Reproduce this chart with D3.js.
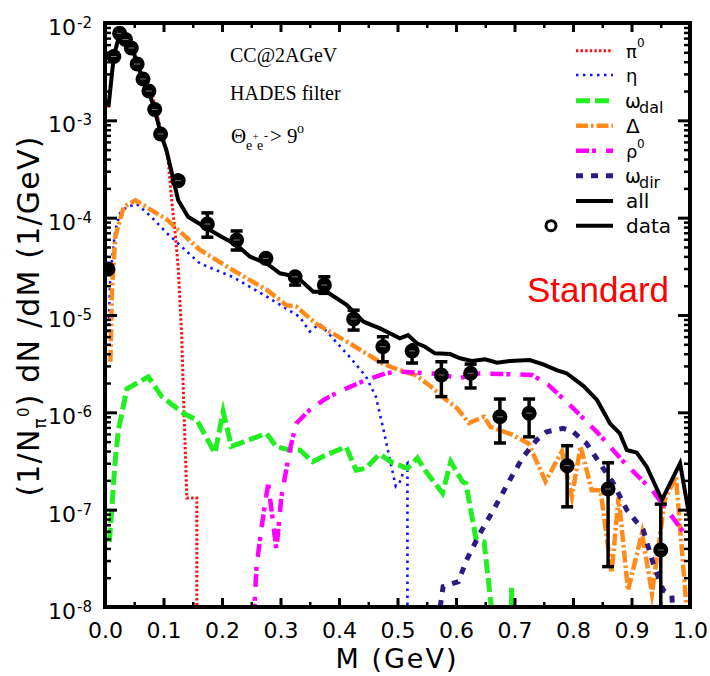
<!DOCTYPE html>
<html><head><meta charset="utf-8">
<script src="https://cdn.jsdelivr.net/npm/d3@7/dist/d3.min.js"></script>
<style>html,body{margin:0;padding:0;background:#fff}svg{display:block}</style>
</head><body>
<svg id="chart" width="710" height="676"></svg>
<script>
// ===== data (M in GeV, dN/dM in 1/GeV) =====
const pi0M = [0.006,0.015,0.027,0.038,0.048,0.055,0.065,0.080,0.089,0.100,0.108,0.114,0.120,0.125,0.128,0.131,0.135,0.140,0.157,0.157];
const pi0V = [1.35e-3,4.47e-3,7.94e-3,6.6e-3,5.13e-3,3.72e-3,2.57e-3,1.95e-3,1.12e-3,6.46e-4,3.89e-4,1.51e-4,6.9e-5,3.16e-5,1.41e-5,6.46e-6,1.0e-6,1.32e-7,1.32e-7,1e-9];

const etaM = [0.006,0.009,0.0175,0.026,0.0375,0.0545,0.077,0.106,0.162,0.219,0.276,0.333,0.350,0.367,0.418,0.446,0.463,0.475,0.486,0.497,0.506,0.512,0.517,0.517];
const etaV = [6.6e-6,2.51e-5,7.41e-5,1.12e-4,1.29e-4,1.38e-4,1.05e-4,6.92e-5,3.39e-5,2.45e-5,1.55e-5,9.55e-6,6.76e-6,8.13e-6,3.72e-6,2.34e-6,1.45e-6,7.08e-7,3.47e-7,1.74e-7,2.0e-7,2.82e-7,3.0e-7,1e-9];

const omegaDalM = [0.0075,0.0175,0.023,0.0375,0.074,0.097,0.134,0.157,0.188,0.202,0.216,0.276,0.293,0.316,0.333,0.355,0.378,0.412,0.429,0.446,0.469,0.492,0.517,0.534,0.549,0.577,0.591,0.611,0.617,0.634,0.648,0.666,0.680,0.693,0.695,0.698];
const omegaDalV = [4.68e-8,3.24e-7,6.61e-7,1.74e-6,2.32e-6,1.45e-6,9.77e-7,8.32e-7,3.8e-7,1.02e-6,4.47e-7,6.08e-7,4.44e-7,4.1e-7,4.1e-7,3.11e-7,3.65e-7,4.44e-7,2.55e-7,2.66e-7,3.72e-7,3.02e-7,2.66e-7,3.39e-7,2.45e-7,1.48e-7,3.11e-7,1.94e-7,1.86e-7,5.07e-8,4.68e-8,5e-9,1e-9,1e-9,1.58e-8,1e-9];

const deltaM = [0.0092,0.012,0.0175,0.032,0.052,0.106,0.162,0.219,0.276,0.31,0.327,0.361,0.418,0.475,0.503,0.532,0.560,0.583,0.602,0.622,0.648,0.659,0.696,0.724,0.753,0.781,0.798,0.813,0.832,0.847,0.866,0.878,0.894,0.918,0.935,0.957,0.976,0.994];
const deltaV = [3.31e-6,1.82e-5,6.31e-5,1.29e-4,1.51e-4,9.55e-5,4.68e-5,2.88e-5,1.82e-5,1.26e-5,1.22e-5,8.13e-6,5.13e-6,3.16e-6,2.72e-6,2.4e-6,1.78e-6,1.35e-6,1.1e-6,7.76e-7,9.0e-7,7.08e-7,5.89e-7,4.79e-7,1.95e-7,3.98e-7,1.35e-7,4.47e-7,1.58e-7,1.58e-7,2.24e-8,1.35e-7,1.48e-8,5.75e-8,1.38e-8,1.26e-7,2.19e-7,1.0e-8];

const rho0M = [0.2545,0.259,0.267,0.279,0.293,0.3015,0.316,0.327,0.35,0.378,0.406,0.446,0.480,0.503,0.571,0.605,0.634,0.672,0.730,0.758,0.798,0.843,0.889,0.935,0.957,0.986,0.997];
const rho0V = [7.94e-9,2.59e-8,6.18e-8,1.87e-7,3.85e-8,1.36e-7,4.1e-7,7.71e-7,1.06e-6,1.39e-6,1.69e-6,2.15e-6,2.52e-6,2.62e-6,2.48e-6,2.23e-6,2.51e-6,2.48e-6,2.42e-6,1.91e-6,1.14e-6,6.08e-7,2.99e-7,1.59e-7,1.07e-7,6.18e-8,4.9e-8];

const omegaDirM = [0.573,0.578,0.604,0.618,0.641,0.664,0.692,0.715,0.738,0.755,0.783,0.800,0.823,0.846,0.869,0.892,0.920,0.937,0.954,0.969,0.971];
const omegaDirV = [1e-8,1.62e-8,1.82e-8,3.04e-8,5.71e-8,9.93e-8,2.02e-7,3.5e-7,5.2e-7,6.32e-7,6.85e-7,6.32e-7,4.8e-7,2.99e-7,1.87e-7,9.93e-8,6.18e-8,2.81e-8,1.49e-8,1.33e-8,7.94e-9];

const allM = [0.006,0.015,0.026,0.038,0.048,0.055,0.065,0.075,0.085,0.096,0.105,0.115,0.125,0.132,0.142,0.174,0.2,0.225,0.248,0.276,0.299,0.328,0.356,0.379,0.413,0.442,0.470,0.504,0.518,0.533,0.547,0.564,0.590,0.607,0.627,0.650,0.670,0.692,0.726,0.749,0.772,0.789,0.818,0.841,0.863,0.880,0.892,0.909,0.926,0.952,0.983,1.0];
const allV = [1.38e-3,4.58e-3,8.09e-3,6.68e-3,5.28e-3,3.79e-3,2.66e-3,1.95e-3,1.28e-3,7.06e-4,4.95e-4,2.74e-4,1.52e-4,1.29e-4,1.02e-4,7.78e-5,6.32e-5,5.24e-5,3.97e-5,3.4e-5,2.68e-5,2.47e-5,1.73e-5,1.73e-5,1.27e-5,8.53e-6,7.29e-6,5.75e-6,6.22e-6,5.12e-6,4.72e-6,4.04e-6,3.97e-6,3.59e-6,3.37e-6,3.51e-6,3.24e-6,3.37e-6,3.45e-6,3.11e-6,2.72e-6,2.52e-6,1.86e-6,1.34e-6,7.71e-7,6.08e-7,4.1e-7,3.85e-7,2.76e-7,1.26e-7,2.99e-7,7.83e-8];

const dataM  = [0.005,0.015,0.025,0.035,0.045,0.055,0.065,0.075,0.085,0.095,0.125,0.175,0.225,0.275,0.325,0.375,0.425,0.475,0.525,0.575,0.625,0.675,0.725,0.79,0.86,0.95];
const dataV  = [2.97e-5,4.53e-3,7.83e-3,6.76e-3,5.53e-3,3.79e-3,2.66e-3,2.0e-3,1.29e-3,7.24e-4,2.40e-4,8.6e-5,5.89e-5,3.82e-5,2.47e-5,2.03e-5,9.1e-6,4.72e-6,4.27e-6,2.42e-6,2.52e-6,9.0e-7,9.8e-7,2.83e-7,1.63e-7,3.85e-8];
const dataHi = [3.3e-5,4.7e-3,8.1e-3,7.0e-3,5.7e-3,3.9e-3,2.75e-3,2.07e-3,1.34e-3,7.5e-4,2.86e-4,1.12e-4,7.3e-5,4.47e-5,2.9e-5,2.47e-5,1.12e-5,5.98e-6,5.15e-6,3.31e-6,3.13e-6,1.37e-6,1.37e-6,4.54e-7,3.03e-7,1.14e-7];
const dataLo = [2.7e-5,4.35e-3,7.55e-3,6.5e-3,5.35e-3,3.68e-3,2.57e-3,1.93e-3,1.24e-3,6.98e-4,2.02e-4,6.3e-5,4.65e-5,3.26e-5,2.03e-5,1.67e-5,7.0e-6,3.31e-6,3.21e-6,1.45e-6,1.78e-6,4.84e-7,5.6e-7,1.07e-7,2.6e-8,1e-9];

const xTickValues = [0,0.1,0.2,0.3,0.4,0.5,0.6,0.7,0.8,0.9,1.0];
const yDecades = [-8,-7,-6,-5,-4,-3,-2];

// ===== layout & scales =====
const W=710,H=676,L=105,R=690,T=23,B=607;
const x=d3.scaleLinear().domain([0,1]).range([L,R]);
const y=d3.scaleLog().domain([1e-8,1e-2]).range([B,T]);
const svg=d3.select('#chart');
svg.append('rect').attr('width',W).attr('height',H).attr('fill','#fff');
svg.append('defs').append('clipPath').attr('id','pc').append('rect')
  .attr('x',L).attr('y',T).attr('width',R-L).attr('height',B-T);

const series=[
  {m:pi0M,v:pi0V,color:'#ff1010',w:3,dash:'2.4,2.2'},
  {m:etaM,v:etaV,color:'#1010ff',w:2.6,dash:'2.5,4.5'},
  {m:omegaDalM,v:omegaDalV,color:'#22ee22',w:5,dash:'14,5'},
  {m:deltaM,v:deltaV,color:'#ff8c1a',w:4.5,dash:'12,3,2.5,3'},
  {m:rho0M,v:rho0V,color:'#ff00ff',w:4.5,dash:'13,3,4,10'},
  {m:omegaDirM,v:omegaDirV,color:'#2e1a80',w:5,dash:'7,8'},
  {m:allM,v:allV,color:'#000',w:4,dash:null}
];
const line=d3.line().x(d=>x(d[0])).y(d=>y(d[1]));
const plot=svg.append('g').attr('clip-path','url(#pc)');
series.forEach(s=>{
  plot.append('path').datum(d3.zip(s.m,s.v)).attr('d',line)
    .attr('fill','none').attr('stroke',s.color).attr('stroke-width',s.w)
    .attr('stroke-dasharray',s.dash).attr('stroke-linejoin','miter').attr('stroke-miterlimit',8);
});

// data points with error bars
const pts=d3.range(dataM.length).map(i=>({m:dataM[i],v:dataV[i],hi:dataHi[i],lo:dataLo[i]}));
const dg=plot.append('g');
pts.forEach(p=>{
  const cx=x(p.m), cy=y(p.v), yh=y(p.hi), yl=y(p.lo);
  dg.append('line').attr('x1',cx).attr('x2',cx).attr('y1',yh).attr('y2',yl).attr('stroke','#000').attr('stroke-width',3.5);
  if(cy-yh>8) dg.append('line').attr('x1',cx-6).attr('x2',cx+6).attr('y1',yh).attr('y2',yh).attr('stroke','#000').attr('stroke-width',3.5);
  if(yl-cy>8 && yl<B) dg.append('line').attr('x1',cx-6).attr('x2',cx+6).attr('y1',yl).attr('y2',yl).attr('stroke','#000').attr('stroke-width',3.5);
  dg.append('circle').attr('cx',cx).attr('cy',cy).attr('r',7.5).attr('fill','#000');
  dg.append('line').attr('x1',cx-3).attr('x2',cx+3).attr('y1',cy).attr('y2',cy).attr('stroke','#777').attr('stroke-width',1);
});

// ===== axes (ticks inside on all four sides) =====
const yMajor=yDecades.map(e=>Math.pow(10,e));
const yMinor=[]; yDecades.slice(0,-1).forEach(e=>{for(let k=2;k<=9;k++) yMinor.push(k*Math.pow(10,e));});
const xMinor=d3.range(0.05,1,0.1);
function style(g,w){g.select('.domain').remove();g.selectAll('.tick line').attr('stroke','#000').attr('stroke-width',w);}
svg.append('g').attr('transform',`translate(${L},0)`).call(d3.axisLeft(y).tickValues(yMajor).tickSize(-12).tickFormat('')).call(g=>style(g,3));
svg.append('g').attr('transform',`translate(${L},0)`).call(d3.axisLeft(y).tickValues(yMinor).tickSize(-6).tickFormat('')).call(g=>style(g,2.5));
svg.append('g').attr('transform',`translate(${R},0)`).call(d3.axisRight(y).tickValues(yMajor).tickSize(-12).tickFormat('')).call(g=>style(g,3));
svg.append('g').attr('transform',`translate(${R},0)`).call(d3.axisRight(y).tickValues(yMinor).tickSize(-6).tickFormat('')).call(g=>style(g,2.5));
const xb=svg.append('g').attr('transform',`translate(0,${B})`).call(d3.axisBottom(x).tickValues(xTickValues).tickSize(-9).tickPadding(15).tickFormat(d3.format('.1f')));
style(xb,3);
xb.selectAll('text').attr('font-family','DejaVu Sans, sans-serif').attr('font-size',22).attr('fill','#000');
svg.append('g').attr('transform',`translate(0,${B})`).call(d3.axisBottom(x).tickValues(xMinor).tickSize(-5).tickFormat('')).call(g=>style(g,2.5));
svg.append('g').attr('transform',`translate(0,${T})`).call(d3.axisTop(x).tickValues(xTickValues).tickSize(-9).tickFormat('')).call(g=>style(g,3));
svg.append('g').attr('transform',`translate(0,${T})`).call(d3.axisTop(x).tickValues(xMinor).tickSize(-5).tickFormat('')).call(g=>style(g,2.5));

// frame
svg.append('rect').attr('x',L).attr('y',T).attr('width',R-L).attr('height',B-T)
  .attr('fill','none').attr('stroke','#000').attr('stroke-width',4);

// y tick labels 10^e
const yl=svg.append('g').attr('font-family','DejaVu Sans, sans-serif').attr('fill','#000');
yDecades.forEach(e=>{
  const py=y(Math.pow(10,e));
  yl.append('text').attr('x',76).attr('y',py+12).attr('text-anchor','end').attr('font-size',22).text('10');
  yl.append('text').attr('x',77).attr('y',py+5).attr('font-size',15).text(String(e));
});

// axis titles
svg.append('text').attr('x',397).attr('y',668).attr('text-anchor','middle')
  .attr('font-family','DejaVu Sans, sans-serif').attr('font-size',27).attr('letter-spacing',2).text('M (GeV)');
const yt=svg.append('text').attr('transform','translate(39,316) rotate(-90)').attr('text-anchor','middle')
  .attr('font-family','DejaVu Sans, sans-serif').attr('font-size',30).attr('letter-spacing',1.2);
yt.append('tspan').text('(1/N');
yt.append('tspan').attr('font-size',17).attr('dy',7).text('π');
yt.append('tspan').attr('font-size',15).attr('dy',-17).text('0');
yt.append('tspan').attr('dy',10).text(') dN /dM (1/GeV)');

// annotations
const ann=svg.append('g').attr('font-family','Liberation Serif, Times New Roman, serif').attr('fill','#000');
ann.append('text').attr('x',230).attr('y',62).attr('font-size',20).text('CC@2AGeV');
ann.append('text').attr('x',230).attr('y',100).attr('font-size',20).text('HADES filter');
ann.append('text').attr('x',231).attr('y',143).attr('font-size',21).text('Θ');
ann.append('text').attr('x',246).attr('y',150).attr('font-size',14).text('e');
ann.append('text').attr('x',252.5).attr('y',140).attr('font-size',11).text('+');
ann.append('text').attr('x',257).attr('y',150).attr('font-size',14).text('e');
ann.append('text').attr('x',264).attr('y',140).attr('font-size',12).text('-');
ann.append('text').attr('x',270).attr('y',143).attr('font-size',21).text('> 9');
ann.append('text').attr('x',297).attr('y',133).attr('font-size',14).text('o');

svg.append('text').attr('x',527).attr('y',302).attr('font-family','Liberation Sans, Arial, sans-serif')
  .attr('font-size',35).attr('fill','#ff0000').text('Standard');

// legend
const legendRows=[50.7,75,100.7,125.7,150.7,175.7,201,225.7];
const lg=svg.append('g');
series.forEach((s,i)=>{
  lg.append('line').attr('x1',576).attr('x2',613).attr('y1',legendRows[i]).attr('y2',legendRows[i])
    .attr('stroke',s.color).attr('stroke-width',s.w).attr('stroke-dasharray',s.dash);
});
lg.append('line').attr('x1',576).attr('x2',613).attr('y1',legendRows[7]).attr('y2',legendRows[7]).attr('stroke','#000').attr('stroke-width',4);
lg.append('circle').attr('cx',551).attr('cy',legendRows[7]).attr('r',5).attr('fill','#fff').attr('stroke','#000').attr('stroke-width',3);
const lt=lg.append('g').attr('font-family','DejaVu Sans, sans-serif').attr('fill','#000');
function lab(xx,yy,fs,t){lt.append('text').attr('x',xx).attr('y',yy).attr('font-size',fs).text(t);}
lab(626,58,18,'π'); lab(637,47,12,'0');
lab(626,82,18,'η');
lab(625,108,19,'ω'); lab(639,113,16,'dal');
lab(626,133,20,'Δ');
lab(626,158,18,'ρ'); lab(637,148,12,'0');
lab(625,183,19,'ω'); lab(639,188,16,'dir');
lab(626,208,20,'all');
lab(626,233,20,'data');
</script>
</body></html>
